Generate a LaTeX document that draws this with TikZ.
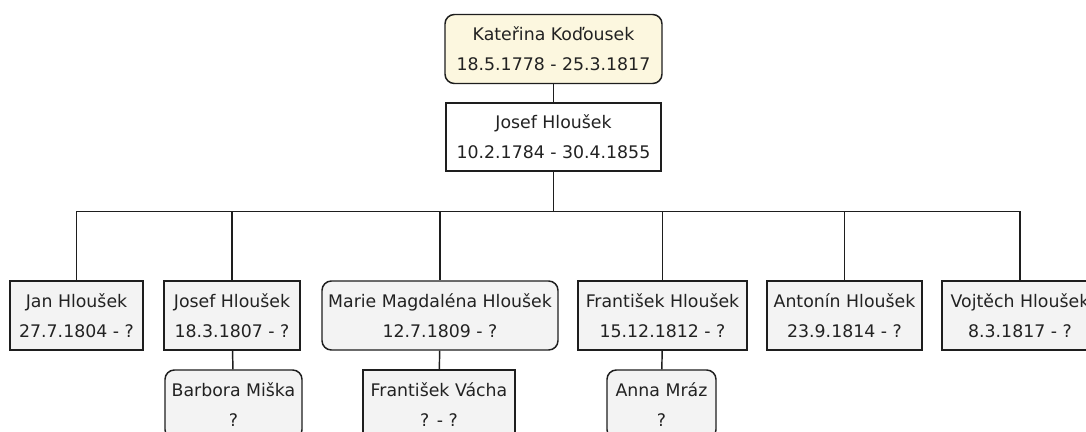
\documentclass[tikz,border=0pt]{standalone}
\usepackage{fontspec}
\setmainfont{DejaVu Sans}
\definecolor{rootfill}{HTML}{FCF7DF}
\definecolor{kidfill}{HTML}{F3F3F3}
\definecolor{edge}{HTML}{1E1E1E}
\definecolor{txt}{HTML}{222222}
\tikzset{
  person/.style={draw=edge, line width=1.1pt, inner sep=0pt, align=center,
    text=txt, font=\fontsize{13}{22.5}\selectfont},
  sz/.style args={#1/#2}{minimum width=#1*0.75pt, minimum height=#2*0.75pt},
  sq/.style={person, fill=kidfill},
  rd/.style={person, fill=kidfill, rounded corners=7pt},
  link/.style={draw=edge, line width=1.1pt}
}
\begin{document}
\begin{tikzpicture}[x=0.75pt,y=-0.75pt]
\useasboundingbox (0,0) rectangle (1086,432);
\clip (0,0) rectangle (1086,432);
\fill[white] (0,0) rectangle (1086,432);
% root and parent
\node[person, fill=rootfill, rounded corners=7pt, sz=217/69] (kat) at (553.5,49) {Kateřina Koďousek\\18.5.1778 - 25.3.1817};
\node[person, fill=white, sz=215/68] (jos) at (553.5,137) {Josef Hloušek\\10.2.1784 - 30.4.1855};
% children
\node[sq, sz=133/69] (c1) at (76.5,315.5) {Jan Hloušek\\27.7.1804 - ?};
\node[sq, sz=136/69] (c2) at (232,315.5) {Josef Hloušek\\18.3.1807 - ?};
\node[rd, sz=236/69] (c3) at (440,315.5) {Marie Magdaléna Hloušek\\12.7.1809 - ?};
\node[sq, sz=169/69] (c4) at (662.5,315.5) {František Hloušek\\15.12.1812 - ?};
\node[sq, sz=155/69] (c5) at (844.5,315.5) {Antonín Hloušek\\23.9.1814 - ?};
\node[sq, sz=156/69] (c6) at (1020,315.5) {Vojtěch Hloušek\\8.3.1817 - ?};
% spouses
\node[rd, sz=137/69] (s2) at (233.5,404.5) {Barbora Miška\\?};
\node[sq, sz=152/69] (s3) at (439,404.5) {František Vácha\\? - ?};
\node[rd, sz=109/69] (s4) at (661.5,404.5) {Anna Mráz\\?};
% connectors
\draw[link] (kat) -- (jos);
\foreach \c in {c1,c2,c3,c4,c5,c6}
  \draw[link] (jos.south) -- ++(0,40) -| (\c.north);
\draw[link] (c2) -- (s2);
\draw[link] (c3) -- (s3);
\draw[link] (c4) -- (s4);
\end{tikzpicture}
\end{document}
